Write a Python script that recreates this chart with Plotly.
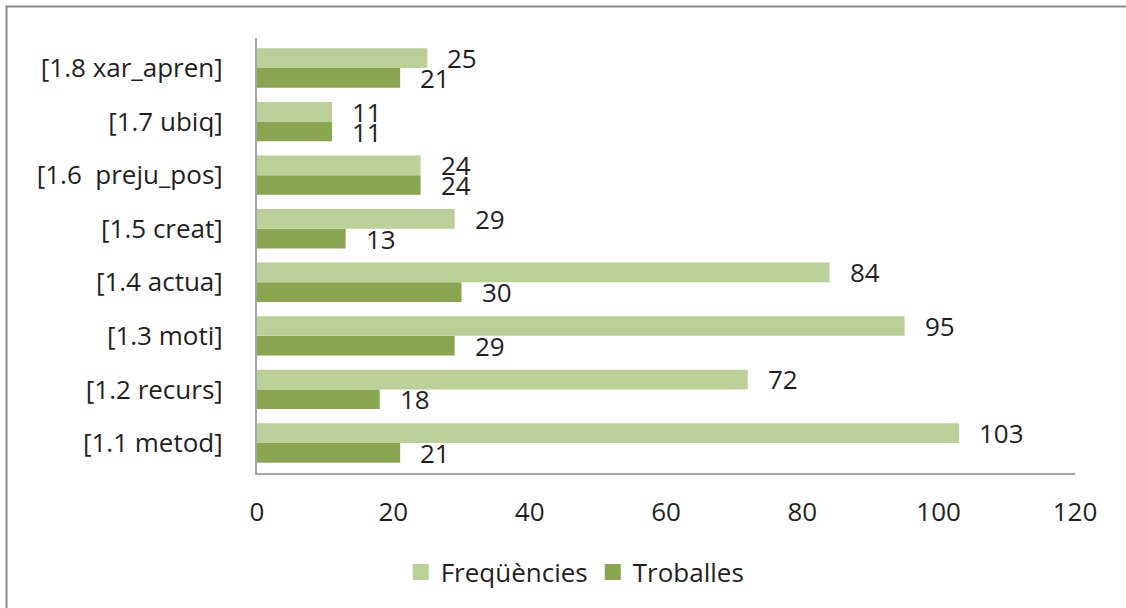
import plotly.graph_objects as go

categories = ["[1.1 metod]", "[1.2 recurs]", "[1.3 moti]", "[1.4 actua]",
              "[1.5 creat]", "[1.6  preju_pos]", "[1.7 ubiq]", "[1.8 xar_apren]"]
frequencies = [103, 72, 95, 84, 29, 24, 11, 25]
troballes = [21, 18, 29, 30, 13, 24, 11, 21]
x_ticks = [0, 20, 40, 60, 80, 100, 120]

FONT = "Open Sans"
TXT = "#1f1f1f"
LIGHT = "#BBCF98"
DARK = "#8AA550"
FS = 26

fig = go.Figure()
fig.add_trace(go.Bar(y=categories, x=troballes, orientation="h", name="Troballes",
                     marker=dict(color=DARK, line=dict(width=0)), showlegend=False))
fig.add_trace(go.Bar(y=categories, x=frequencies, orientation="h", name="Freqüències",
                     marker=dict(color=LIGHT, line=dict(width=0)), showlegend=False))
# legend entries with larger square swatches
fig.add_trace(go.Scatter(x=[None], y=[None], mode="markers", name="Freqüències",
                         marker=dict(symbol="square", size=18, color=LIGHT), legendrank=1))
fig.add_trace(go.Scatter(x=[None], y=[None], mode="markers", name="Troballes",
                         marker=dict(symbol="square", size=18, color=DARK), legendrank=2))

ann = []
for c, v in zip(categories, frequencies):
    ann.append(dict(x=v, y=c, text=str(v), showarrow=False, xanchor="left",
                    xshift=18, yshift=10, font=dict(family=FONT, size=FS, color=TXT)))
for c, v in zip(categories, troballes):
    ann.append(dict(x=v, y=c, text=str(v), showarrow=False, xanchor="left",
                    xshift=18, yshift=-10, font=dict(family=FONT, size=FS, color=TXT)))

fig.update_layout(
    width=1126, height=608,
    margin=dict(l=257, r=51, t=38, b=135),
    paper_bgcolor="white", plot_bgcolor="white",
    barmode="group", bargap=0.265, bargroupgap=0,
    font=dict(family=FONT, size=FS, color=TXT),
    annotations=ann,
    showlegend=True,
    legend=dict(orientation="h", x=0.389, xanchor="center", y=-0.228, yanchor="middle",
                font=dict(family=FONT, size=FS, color=TXT), itemwidth=30,
                traceorder="normal"),
    shapes=[dict(type="rect", xref="paper", yref="paper",
                 x0=(6.5 - 257) / 818, x1=(1140 - 257) / 818,
                 y0=-(620 - 473) / 435, y1=(473 - 6.5) / 435,
                 line=dict(color="#8c8c8c", width=2), layer="below")],
)
fig.update_xaxes(range=[0, 120], tickvals=x_ticks, showgrid=False, zeroline=False,
                 showline=True, linecolor="#a6a6a6", linewidth=2, ticks="",
                 ticklabelstandoff=15, tickfont=dict(family=FONT, size=FS, color=TXT))
fig.update_yaxes(showgrid=False, zeroline=False, showline=True, linecolor="#a6a6a6",
                 linewidth=2, ticks="", ticklabelstandoff=27,
                 tickfont=dict(family=FONT, size=FS, color=TXT))

fig.write_html("out.html")
